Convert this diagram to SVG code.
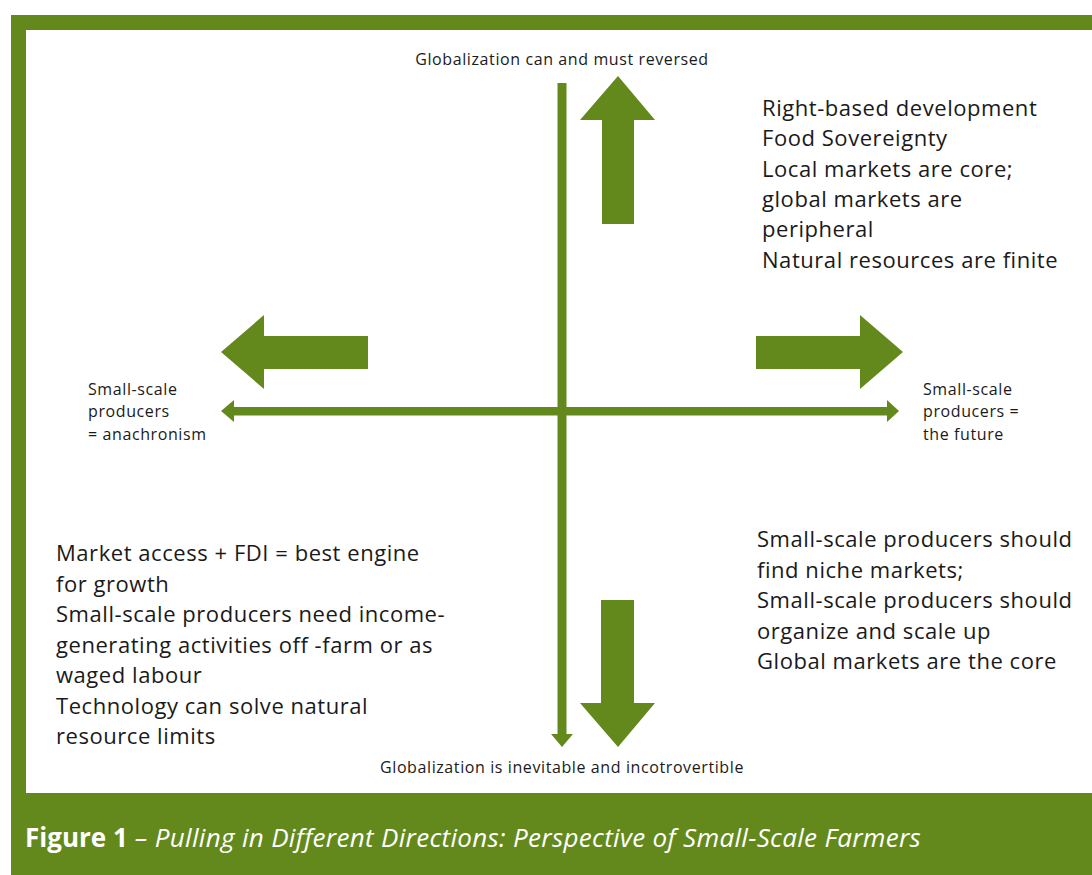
<svg xmlns="http://www.w3.org/2000/svg" width="1092" height="875" viewBox="0 0 1092 875">
<style>
.g{fill:#63891c}
.big{font-family:"Open Sans","DejaVu Sans",sans-serif;font-size:22px;letter-spacing:0.55px;fill:#1a1a1a}
.sm{font-family:"Open Sans","DejaVu Sans",sans-serif;font-size:16px;letter-spacing:0.6px;fill:#1a1a1a}
.cap{font-family:"Open Sans","DejaVu Sans",sans-serif;font-size:26px;fill:#ffffff}
</style>
<rect x="0" y="0" width="1092" height="875" fill="#ffffff"/>
<rect class="g" x="11" y="15" width="1081" height="860"/>
<rect x="26" y="30" width="1066" height="763" fill="#ffffff"/>
<g id="connectors">
<rect class="g" x="557.5" y="83" width="9" height="652"/>
<polygon class="g" points="551,734 573,734 562,747"/>
<rect class="g" x="233" y="407" width="655" height="8.5"/>
<polygon class="g" points="221,411 234,400 234,422"/>
<polygon class="g" points="899,411 887,400 887,422"/>
</g>
<g id="arrow-up"><polygon class="g" points="618,76 655,120 634,120 634,224 602,224 602,120 580,120"/></g>
<g id="arrow-down"><polygon class="g" points="601,600 634,600 634,703 655,703 618,747 580,703 601,703"/></g>
<g id="arrow-left"><polygon class="g" points="221,352 264,315 264,336 368,336 368,369 264,369 264,389"/></g>
<g id="arrow-right"><polygon class="g" points="903,352 860,315 860,336 756,336 756,369 860,369 860,389"/></g>
<g id="label-top"><text class="sm" x="562" y="65" text-anchor="middle">Globalization can and must reversed</text></g>
<g id="label-bottom"><text class="sm" x="562" y="773" text-anchor="middle">Globalization is inevitable and incotrovertible</text></g>
<g id="label-left"><text class="sm" x="88" y="395">Small-scale</text><text class="sm" x="88" y="417">producers</text><text class="sm" x="88" y="440">= anachronism</text></g>
<g id="label-right"><text class="sm" x="923" y="395">Small-scale</text><text class="sm" x="923" y="417">producers =</text><text class="sm" x="923" y="440">the future</text></g>
<g id="quad-top-right">
<text class="big" x="762" y="116">Right-based development</text>
<text class="big" x="762" y="146">Food Sovereignty</text>
<text class="big" x="762" y="177">Local markets are core;</text>
<text class="big" x="762" y="207">global markets are</text>
<text class="big" x="762" y="237">peripheral</text>
<text class="big" x="762" y="268">Natural resources are finite</text>
</g>
<g id="quad-bottom-left">
<text class="big" x="56" y="561">Market access + FDI = best engine</text>
<text class="big" x="56" y="592">for growth</text>
<text class="big" x="56" y="622">Small-scale producers need income-</text>
<text class="big" x="56" y="653">generating activities off -farm or as</text>
<text class="big" x="56" y="683">waged labour</text>
<text class="big" x="56" y="714">Technology can solve natural</text>
<text class="big" x="56" y="744">resource limits</text>
</g>
<g id="quad-bottom-right">
<text class="big" x="757" y="547">Small-scale producers should</text>
<text class="big" x="757" y="578">find niche markets;</text>
<text class="big" x="757" y="608">Small-scale producers should</text>
<text class="big" x="757" y="639">organize and scale up</text>
<text class="big" x="757" y="669">Global markets are the core</text>
</g>
<g id="caption"><text class="cap" x="25" y="847"><tspan font-weight="bold">Figure 1</tspan><tspan font-style="italic" letter-spacing="0.32px"> – Pulling in Different Directions: Perspective of Small-Scale Farmers</tspan></text></g>
</svg>
